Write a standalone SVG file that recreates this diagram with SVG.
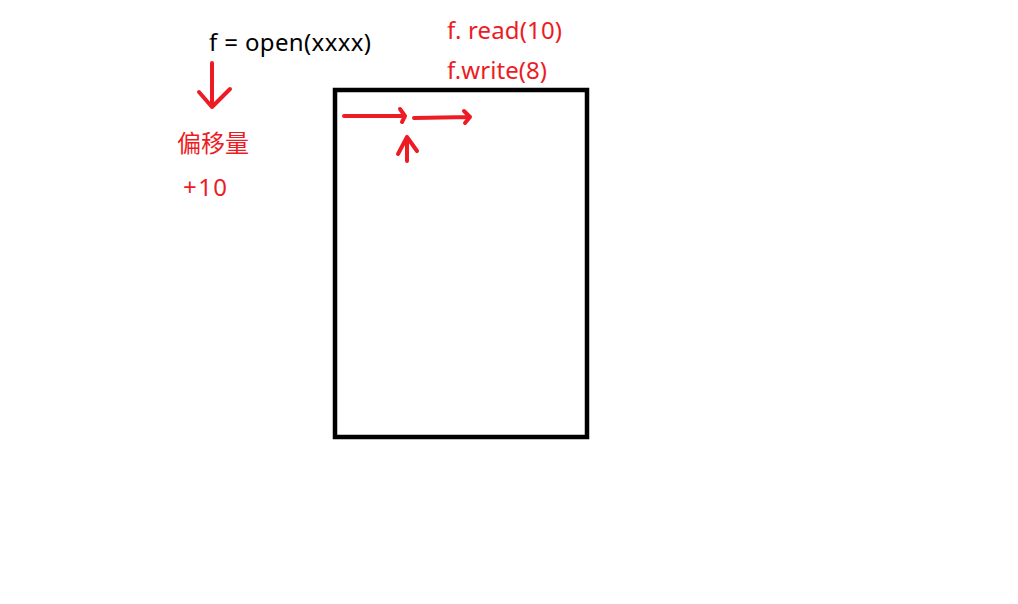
<svg xmlns="http://www.w3.org/2000/svg" width="1018" height="604" viewBox="0 0 1018 604">
<style>
.t{font-family:"Noto Sans","Noto Sans CJK SC",sans-serif;font-size:24px}
.r{fill:#ed1c24}
.k{fill:#000}
.a{fill:none;stroke:#ed1c24;stroke-width:4;stroke-linecap:round;stroke-linejoin:round}
</style>
<rect width="1018" height="604" fill="#fff"/>
<g id="file">
<rect x="335" y="90" width="252" height="347" fill="none" stroke="#000" stroke-width="4.5"/>
</g>
<g id="labels">
<text class="t k" x="209" y="51" textLength="162">f = open(xxxx)</text>
<text class="t r" x="447" y="39" textLength="115">f. read(10)</text>
<text class="t r" x="447" y="79" textLength="100">f.write(8)</text>
<text class="t r" x="177" y="152">偏移量</text>
<text class="t r" x="183" y="196" textLength="44">+10</text>
</g>
<g id="connectors">
<path class="a" d="M212 63 L212 107 M199 92 L212 107 L230 89"/>
<path class="a" d="M344 116 L405 116 M400 109 L405 116 L402 122"/>
<path class="a" d="M414 118 L470 117 M464 111 L470 117 L465 123"/>
<path class="a" d="M407 161 L407 137 M398 154 L407 137 L417 151"/>
</g>
</svg>
